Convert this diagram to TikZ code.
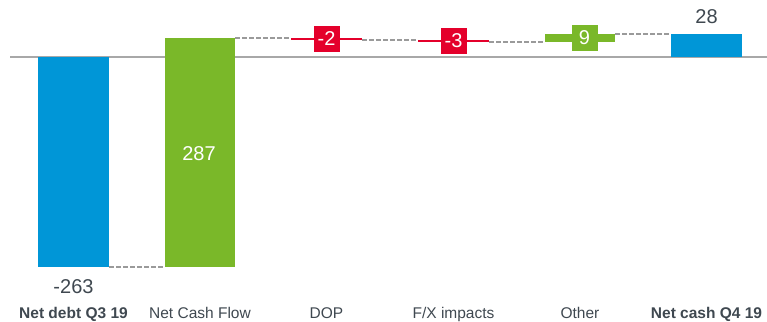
\documentclass[tikz,border=0pt]{standalone}
\usepackage{fontspec}
\setmainfont{Liberation Sans}
\definecolor{cblue}{HTML}{0096D7}
\definecolor{cgreen}{HTML}{7AB829}
\definecolor{cred}{HTML}{E4002B}
\definecolor{ctext}{HTML}{3F4850}
\definecolor{caxis}{HTML}{A8A8A8}
\definecolor{cdash}{HTML}{9A9A9A}
\tikzset{
  bar/.style={inner sep=0pt, outer sep=0pt, anchor=north west, draw=none},
  vbox/.style={inner sep=0pt, outer sep=0pt, minimum width=26pt, minimum height=26pt, text=white, font=\fontsize{20}{20}\selectfont},
  num/.style={text=ctext, font=\fontsize{20}{20}\selectfont, anchor=base, inner sep=0pt},
  cat/.style={text=ctext, font=\fontsize{15.5}{16}\selectfont, anchor=base, inner sep=0pt},
  conn/.style={draw=cdash, line width=1.2pt, dash pattern=on 4.5pt off 2.5pt},
}
\begin{document}
\begin{tikzpicture}[x=1pt,y=-1pt]
\useasboundingbox (0,0) rectangle (767,321);
% axis
\coordinate (axL) at (10,57);
\coordinate (axR) at (767,57);
\draw[caxis, line width=2pt] (axL) -- (axR);
% bars
\node[bar, fill=cblue, minimum width=71pt, minimum height=210pt] (b1) at (38,57) {};
\node[bar, fill=cgreen, minimum width=70pt, minimum height=229pt] (b2) at (165,38) {};
\node[bar, fill=cred, minimum width=71pt, minimum height=2pt] (b3) at (291,38) {};
\node[bar, fill=cred, minimum width=71pt, minimum height=2pt] (b4) at (418,40) {};
\node[bar, fill=cgreen, minimum width=70pt, minimum height=8pt] (b5) at (545,34) {};
\node[bar, fill=cblue, minimum width=71pt, minimum height=23pt] (b6) at (671,34) {};
% connectors
\draw[conn] (b1.south east) -- (b2.south west);
\draw[conn] (b2.north east) -- (b3.north west);
\draw[conn] (b3.south east) -- (b4.north west);
\draw[conn] (b4.south east) -- (b5.south west);
\draw[conn] (b5.north east) -- (b6.north west);
% value boxes
\node[vbox, fill=cred] (v3) at (326.5,39) {-2};
\node[vbox, fill=cred] (v4) at (453.5,41) {-3};
\node[vbox, fill=cgreen] (v5) at (584.5,38) {9};
% values
\node[num] (n1) at (73.5,293) {-263};
\node[text=white, font=\fontsize{20}{20}\selectfont, inner sep=0pt, anchor=base] (n2) at (199,160) {287};
\node[num] (n6) at (706.5,24) {28};
% categories
\node[cat, font=\fontsize{15.5}{16}\selectfont\bfseries] (c1) at (73.5,318.5) {Net debt Q3 19};
\node[cat] (c2) at (200,318.5) {Net Cash Flow};
\node[cat] (c3) at (326.5,318.5) {DOP};
\node[cat] (c4) at (453.5,318.5) {F/X impacts};
\node[cat] (c5) at (580,318.5) {Other};
\node[cat, font=\fontsize{15.5}{16}\selectfont\bfseries] (c6) at (706.5,318.5) {Net cash Q4 19};
\end{tikzpicture}
\end{document}
